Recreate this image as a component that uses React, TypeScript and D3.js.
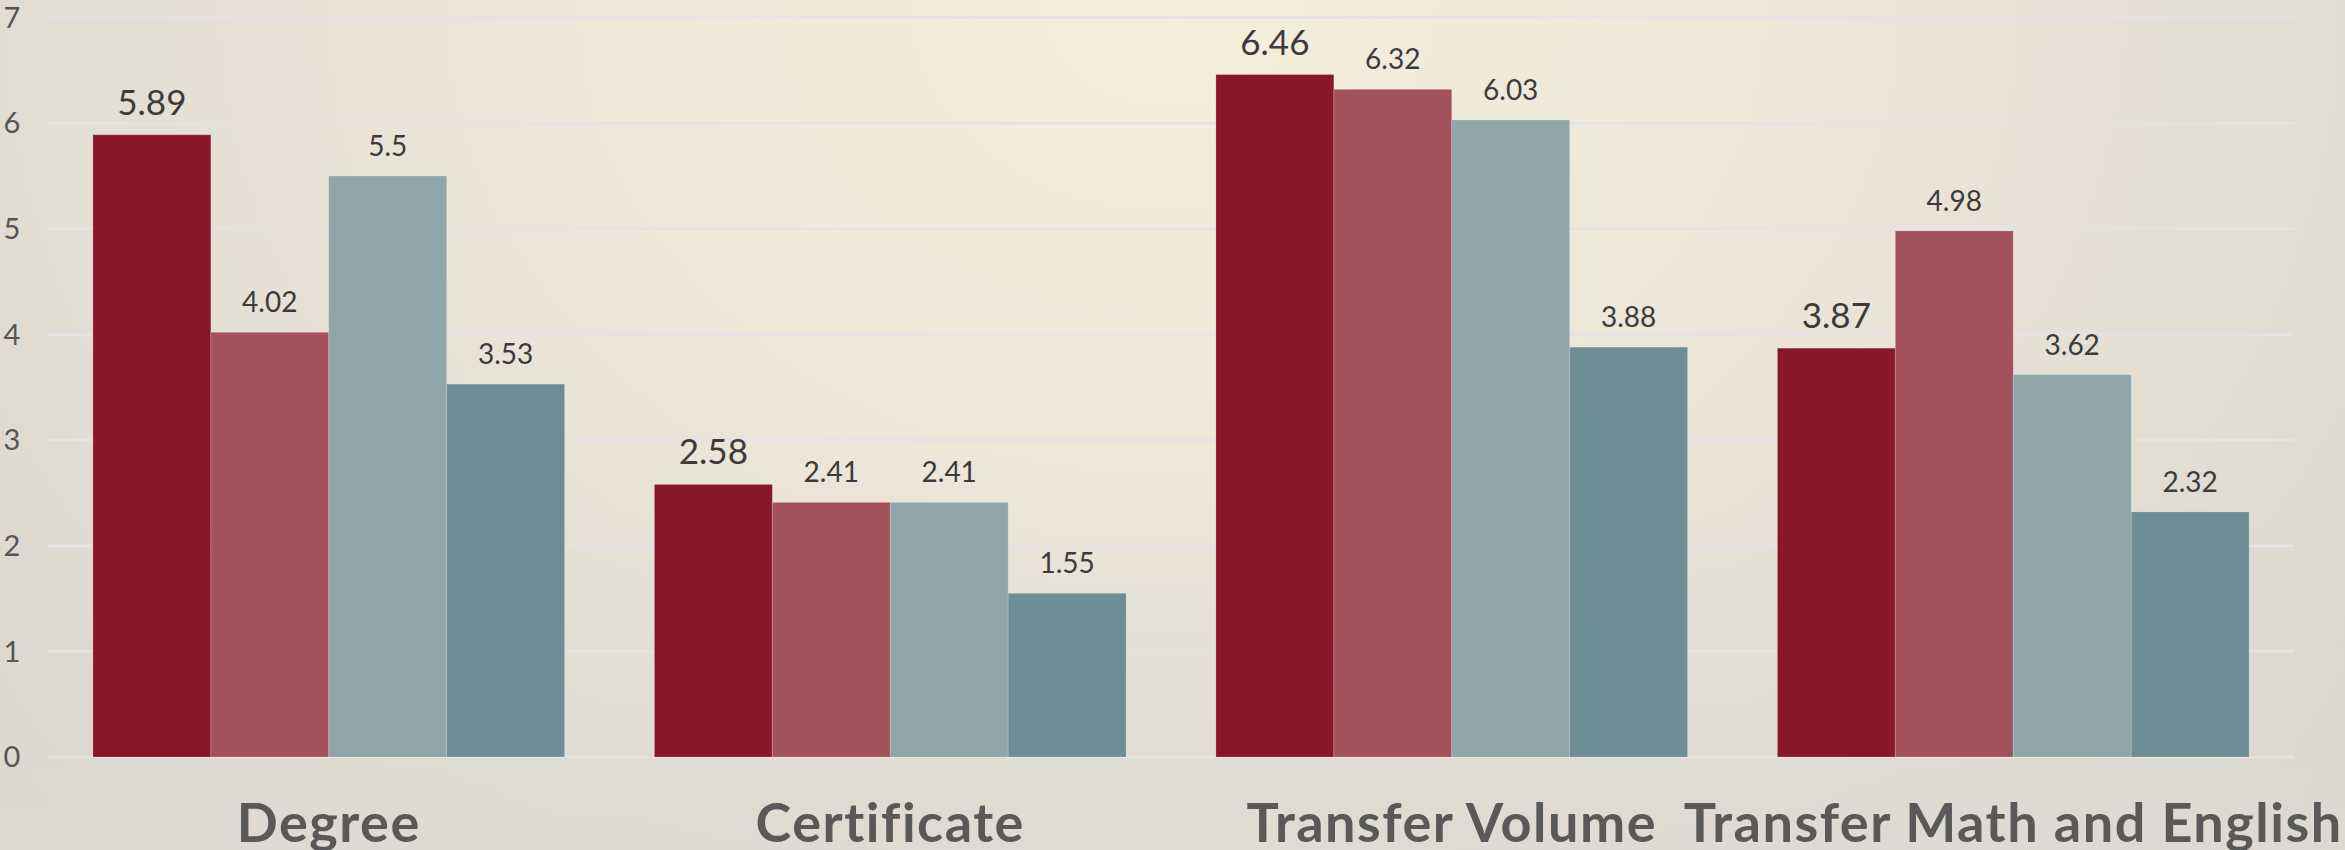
import React from "react";
import * as d3 from "d3";

const categories = ["Degree", "Certificate", "Transfer Volume", "Transfer Math and English"];
const seriesNames = ["S1", "S2", "S3", "S4"];
const series1 = [5.89, 2.58, 6.46, 3.87];
const series2 = [4.02, 2.41, 6.32, 4.98];
const series3 = [5.5, 2.41, 6.03, 3.62];
const series4 = [3.53, 1.55, 3.88, 2.32];
const yTicks = [0, 1, 2, 3, 4, 5, 6, 7];

const seriesValues = [series1, series2, series3, series4];
const colors = ["#8A1728", "#A3515A", "#8FA5A9", "#6D8D97"];

const W = 2345;
const H = 850;

export default function App() {
  const x0 = d3.scaleBand<string>().domain(categories).range([48, 2294]).paddingInner(0.16).paddingOuter(0.08);
  const x1 = d3.scaleBand<string>().domain(seriesNames).range([0, x0.bandwidth()]).padding(0);
  const y = d3.scaleLinear().domain([0, 7]).range([757, 17.5]);

  return (
    <svg
      width={W}
      height={H}
      style={{ position: "absolute", left: 0, top: 0, display: "block" }}
      fontFamily="Lato, 'Open Sans', sans-serif"
    >
      <defs>
        <radialGradient id="bg" cx="0.5" cy="0.0" r="0.75" gradientTransform="translate(0.5 0) scale(1 2.2) translate(-0.5 0)">
          <stop offset="0" stopColor="#F5F0DB" />
          <stop offset="0.45" stopColor="#E9E4D6" />
          <stop offset="1" stopColor="#D6D2CB" />
        </radialGradient>
        <linearGradient id="bottom" x1="0" y1="0" x2="0" y2="1">
          <stop offset="0.6" stopColor="#DEDAD4" stopOpacity="0" />
          <stop offset="1" stopColor="#DEDAD4" stopOpacity="0.8" />
        </linearGradient>
      </defs>
      <rect x={0} y={0} width={W} height={H} fill="url(#bg)" />
      <rect x={0} y={0} width={W} height={H} fill="url(#bottom)" />

      {yTicks.map((t) => (
        <g key={t}>
          <line x1={48} x2={2294} y1={y(t)} y2={y(t)} stroke="#E3E3E3" strokeWidth={2.5} />
          <text x={12} y={y(t)} dy="0.35em" textAnchor="middle" fontSize={29} fill="#555555">
            {t}
          </text>
        </g>
      ))}

      {categories.map((c, ci) => (
        <g key={c} transform={`translate(${x0(c)},0)`}>
          {seriesNames.map((s, si) => {
            const v = seriesValues[si][ci];
            const bx = x1(s) as number;
            return (
              <g key={s}>
                <rect
                  x={bx}
                  y={y(v)}
                  width={x1.bandwidth()}
                  height={y(0) - y(v)}
                  fill={colors[si]}
                  stroke="rgba(255,255,255,0.18)"
                  strokeWidth={1}
                />
                <text
                  x={bx + x1.bandwidth() / 2}
                  y={y(v) - 20}
                  textAnchor="middle"
                  fontSize={si === 0 ? 35 : 28}
                  fill="#3B3B3B"
                >
                  {v}
                </text>
              </g>
            );
          })}
          <text
            x={x0.bandwidth() / 2}
            y={842}
            textAnchor="middle"
            fontSize={54}
            fontWeight="bold"
            letterSpacing={1.5}
            fill="#595959"
          >
            {c}
          </text>
        </g>
      ))}
    </svg>
  );
}
